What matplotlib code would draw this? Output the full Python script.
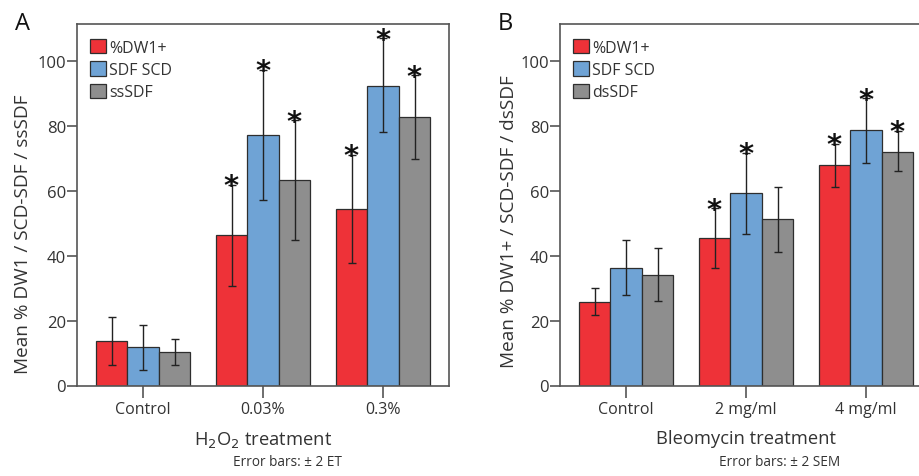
"""
Two grouped bar panels (H2O2 and bleomycin) with error bars and asterisks.
"""

import matplotlib
matplotlib.use("Agg")
import matplotlib.pyplot as plt
import numpy as np

plt.rcParams["font.family"] = ["Open Sans", "DejaVu Sans"]

series = ["%DW1+", "SDF SCD"]
colors = ["#ee3238", "#6fa3d5", "#8e8e8e"]

# panel A: H2O2
groups_a = ["Control", "0.03%", "0.3%"]
third_a = "ssSDF"
means_a = [[13.7, 46.3, 54.3], [11.9, 77.2, 92.4], [10.3, 63.3, 82.8]]
err_lo_a = [[6.3, 30.6, 37.6], [4.9, 57.1, 78.0], [6.3, 44.9, 69.8]]
err_hi_a = [[21.2, 61.9, 71.1], [18.7, 97.3, 107.0], [14.3, 81.7, 95.6]]
star_a = [[False, True, True], [False, True, True], [False, True, True]]

# panel B: bleomycin
groups_b = ["Control", "2 mg/ml", "4 mg/ml"]
third_b = "dsSDF"
means_b = [[25.8, 45.6, 67.9], [36.3, 59.4, 78.7], [34.2, 51.4, 72.1]]
err_lo_b = [[21.6, 36.3, 61.1], [28.0, 46.8, 68.7], [26.0, 41.2, 66.0]]
err_hi_b = [[29.9, 54.7, 74.5], [44.9, 71.8, 88.5], [42.5, 61.1, 78.5]]
star_b = [[False, True, True], [False, True, True], [False, False, True]]

panels = [
    ("A", groups_a, third_a, means_a, err_lo_a, err_hi_a, star_a,
     "Mean % DW1 / SCD-SDF / ssSDF", "H$_2$O$_2$ treatment", "Error bars: \u00b1 2 ET"),
    ("B", groups_b, third_b, means_b, err_lo_b, err_hi_b, star_b,
     "Mean % DW1+ / SCD-SDF / dsSDF", "Bleomycin treatment", "Error bars: \u00b1 2 SEM"),
]

W, H = 920, 477
fig = plt.figure(figsize=(W / 100, H / 100), dpi=100)

ax_left = [77, 560]
ax_w, ax_top, ax_bot = 372, 25, 386.5
ylab_x = [-0.122, -0.112]
ylab_y = [0.42, 0.455]
note_x = [0.567, 0.591]
spine = "#555555"
txt = "#333333"
width = 0.2625

for i, (tag, groups, third, means, lo, hi, stars, ylab, xlab, note) in enumerate(panels):
    ax = fig.add_axes([ax_left[i] / W, (H - ax_bot) / H, ax_w / W, (ax_bot - ax_top) / H])
    x = np.arange(len(groups))
    names = series + [third]
    for k in range(3):
        pos = x + (k - 1) * width
        m = np.array(means[k])
        yerr = [m - np.array(lo[k]), np.array(hi[k]) - m]
        ax.bar(pos, m, width, color=colors[k], edgecolor="#2e2e2e",
               linewidth=0.9, label=names[k], zorder=2)
        ax.errorbar(pos, m, yerr=yerr, fmt="none", ecolor="#222222",
                    elinewidth=1.0, capsize=3.2, capthick=1.0, zorder=3)
        for j in range(len(groups)):
            if stars[k][j]:
                ax.annotate("*", (pos[j], hi[k][j]), xytext=(0, -7),
                            textcoords="offset points", ha="center", va="baseline",
                            fontsize=21, family="DejaVu Sans", color="#111111",
                            fontweight="bold", zorder=4)

    ax.set_xlim(-0.55, 2.55)
    ax.set_ylim(0, 111.4)
    ax.set_yticks([0, 20, 40, 60, 80, 100])
    ax.set_xticks(x)
    ax.set_xticklabels(groups)
    for s in ax.spines.values():
        s.set_color(spine)
        s.set_linewidth(1.2)
    ax.tick_params(axis="y", length=7, width=1.2, color=spine, pad=1,
                   labelsize=12, labelcolor=txt)
    ax.tick_params(axis="x", length=8.5, width=1.2, color=spine, pad=3,
                   labelsize=11.5, labelcolor=txt)

    ax.set_ylabel(ylab, fontsize=13.7, color=txt)
    ax.yaxis.set_label_coords(ylab_x[i], ylab_y[i])
    ax.set_xlabel(xlab, fontsize=13.2, color=txt, labelpad=8)
    ax.text(note_x[i], -0.209, note, transform=ax.transAxes, ha="center",
            va="center", fontsize=9.8, color=txt)

    ax.legend(loc="upper left", bbox_to_anchor=(0.035, 0.958), frameon=False,
              fontsize=11.5, handlelength=1.0, handleheight=1.0,
              handletextpad=0.2, labelspacing=0.35, borderpad=0, borderaxespad=0,
              labelcolor=txt)

    fig.text((ax_left[i] - 62) / W, 1 - 24 / H, tag, fontsize=17,
             ha="left", va="center", color="#111111")

fig.savefig("out.png", dpi=100)
